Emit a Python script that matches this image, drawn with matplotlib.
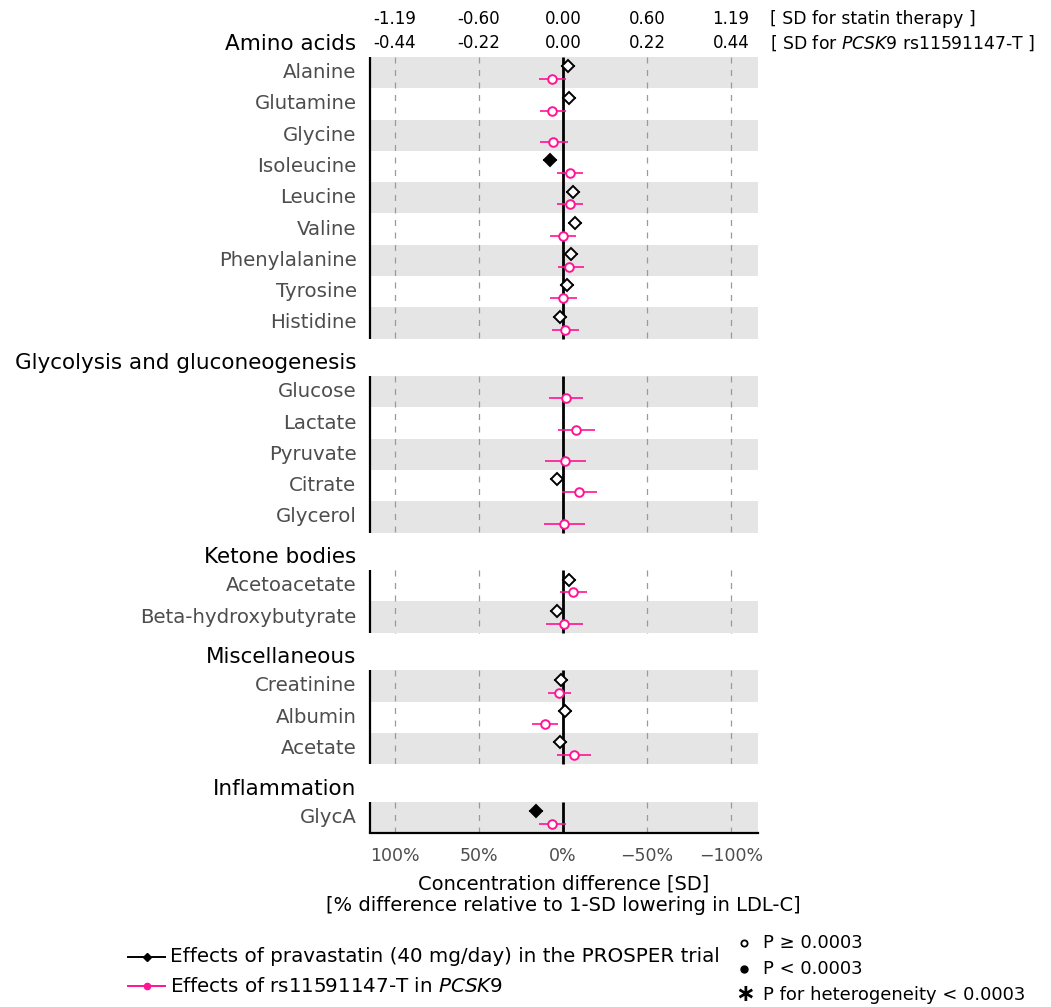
import numpy as np
import matplotlib
matplotlib.use("Agg")
import matplotlib.pyplot as plt
from matplotlib.lines import Line2D

plt.rcParams['font.family'] = ['DejaVu Sans']
plt.rcParams['mathtext.fontset'] = 'dejavusans'

# ---------------- data ----------------
groups = ["Amino acids", "Glycolysis and gluconeogenesis", "Ketone bodies",
          "Miscellaneous", "Inflammation"]
metabolites = [
    ["Alanine", "Glutamine", "Glycine", "Isoleucine", "Leucine", "Valine",
     "Phenylalanine", "Tyrosine", "Histidine"],
    ["Glucose", "Lactate", "Pyruvate", "Citrate", "Glycerol"],
    ["Acetoacetate", "Beta\u2010hydroxybutyrate"],
    ["Creatinine", "Albumin", "Acetate"],
    ["GlycA"],
]
nan = np.nan
# statin effects [SD for statin therapy]
statin_est = [0.038, 0.045, nan, -0.092, 0.073, 0.087, 0.055, 0.026, -0.023,
              nan, nan, nan, -0.040, nan,
              0.040, -0.042,
              -0.014, 0.016, -0.019,
              -0.193]
statin_lo = [-0.012, -0.005, nan, -0.142, 0.023, 0.037, 0.005, -0.024, -0.073,
             nan, nan, nan, -0.090, nan,
             -0.010, -0.092,
             -0.064, -0.034, -0.069,
             -0.243]
statin_hi = [0.088, 0.095, nan, -0.042, 0.123, 0.137, 0.105, 0.076, 0.027,
             nan, nan, nan, 0.010, nan,
             0.090, 0.008,
             0.036, 0.066, 0.031,
             -0.143]
statin_sig = [0, 0, 0, 1, 0, 0, 0, 0, 0,
              0, 0, 0, 0, 0,
              0, 0,
              0, 0, 0,
              1]
# PCSK9 rs11591147-T effects [SD for PCSK9 rs11591147-T]
pcsk9_est = [-0.028, -0.030, -0.025, 0.018, 0.018, 0.000, 0.016, 0.000, 0.004,
             0.007, 0.035, 0.006, 0.041, 0.003,
             0.026, 0.003,
             -0.010, -0.047, 0.028,
             -0.028]
pcsk9_lo = [-0.062, -0.061, -0.060, -0.015, -0.015, -0.034, -0.012, -0.034, -0.030,
            -0.038, -0.012, -0.046, -0.004, -0.050,
            -0.008, -0.045,
            -0.040, -0.082, -0.016,
            -0.063]
pcsk9_hi = [0.007, 0.007, 0.012, 0.052, 0.052, 0.034, 0.056, 0.036, 0.042,
            0.053, 0.083, 0.059, 0.088, 0.057,
            0.062, 0.051,
            0.021, -0.012, 0.073,
            0.008]

statin_sd_unit = 0.595   # statin SD per axis unit
pcsk9_sd_unit = 0.22     # PCSK9 SD per axis unit
tick_units = [-2, -1, 0, 1, 2]
statin_tick_labels = ["-1.19", "-0.60", "0.00", "0.60", "1.19"]
pcsk9_tick_labels = ["-0.44", "-0.22", "0.00", "0.22", "0.44"]
pct_tick_labels = ["100%", "50%", "0%", "\u221250%", "\u2212100%"]

# ---------------- style ----------------
PINK = "#ff1493"
BAND = "#e5e5e5"
GRAYTXT = "#4d4d4d"
W, H = 1051, 1007

fig = plt.figure(figsize=(W / 100, H / 100), dpi=100)
ax_left, ax_right, ax_top, ax_bot = 369.5, 758.0, 57.0, 833.0
ax = fig.add_axes([ax_left / W, 1 - ax_bot / H, (ax_right - ax_left) / W,
                   (ax_bot - ax_top) / H])

gap = 1.2
sizes = [len(m) for m in metabolites]
total = sum(sizes) + gap * (len(sizes) - 1)
xmin, xmax = -2.304, 2.321
ax.set_xlim(xmin, xmax)
ax.set_ylim(total, 0)

px2pt = 0.72
dash = (0, (4.8, 5.2))

idx = 0
top = 0.0
for g, (gname, names) in enumerate(zip(groups, metabolites)):
    n = len(names)
    bottom = top + n
    # bands
    for i in range(n):
        if (n - 1 - i) % 2 == 0:
            ax.axhspan(top + i, top + i + 1, color=BAND, lw=0, zorder=0)
    # dashed reference lines
    ax.vlines([t for t in tick_units if t != 0], top, bottom, colors="#9a9a9a",
              linestyles=[dash], lw=0.9, zorder=1)
    ax.vlines(0, top, bottom, colors="black", lw=2.0, zorder=2)
    ax.vlines(xmin, top, bottom, colors="black", lw=1.6, zorder=3, clip_on=False)
    # header
    ax.annotate(gname, xy=(0, top - 0.42), xycoords=("axes fraction", "data"),
                xytext=(-13 * px2pt, 0), textcoords="offset points",
                ha="right", va="center", fontsize=15.5, color="black",
                annotation_clip=False)
    for i, name in enumerate(names):
        yc = top + i + 0.5
        ax.annotate(name, xy=(0, yc), xycoords=("axes fraction", "data"),
                    xytext=(-13 * px2pt, 0), textcoords="offset points",
                    ha="right", va="center", fontsize=14.2, color=GRAYTXT,
                    annotation_clip=False)
        # statin
        se = statin_est[idx]
        if not np.isnan(se):
            ys = yc - 0.2
            ax.hlines(ys, statin_lo[idx] / statin_sd_unit,
                      statin_hi[idx] / statin_sd_unit, colors="black",
                      lw=1.1, zorder=4)
            ax.plot(se / statin_sd_unit, ys, marker="D", ms=6.0,
                    mfc="black" if statin_sig[idx] else "white",
                    mec="black", mew=1.4, zorder=6)
        # pcsk9
        pe = pcsk9_est[idx]
        yp = yc + 0.21
        ax.hlines(yp, pcsk9_lo[idx] / pcsk9_sd_unit,
                  pcsk9_hi[idx] / pcsk9_sd_unit, colors=PINK, lw=1.2, zorder=4)
        ax.plot(pe / pcsk9_sd_unit, yp, marker="o", ms=6.2, mfc="white",
                mec=PINK, mew=1.4, zorder=6)
        idx += 1
    top = bottom + gap

for s in ["top", "right", "left"]:
    ax.spines[s].set_visible(False)
ax.spines["bottom"].set_linewidth(1.6)
ax.set_yticks([])
ax.set_xticks(tick_units)
ax.set_xticklabels(pct_tick_labels, fontsize=12.5, color=GRAYTXT)
ax.tick_params(axis="x", length=0, pad=10)
ax.set_xlabel("Concentration difference [SD]\n"
              "[% difference relative to 1-SD lowering in LDL-C]",
              fontsize=14, labelpad=7, linespacing=1.15)

# top SD scales
for t, l1, l2 in zip(tick_units, statin_tick_labels, pcsk9_tick_labels):
    ax.annotate(l1, xy=(t, 1), xycoords=("data", "axes fraction"),
                xytext=(0, 38 * px2pt), textcoords="offset points",
                ha="center", va="center", fontsize=12, annotation_clip=False)
    ax.annotate(l2, xy=(t, 1), xycoords=("data", "axes fraction"),
                xytext=(0, 14 * px2pt), textcoords="offset points",
                ha="center", va="center", fontsize=12, annotation_clip=False)
ax.annotate("[ SD for statin therapy ]", xy=(1, 1), xycoords="axes fraction",
            xytext=(12 * px2pt, 38 * px2pt), textcoords="offset points",
            ha="left", va="center", fontsize=12.4, annotation_clip=False)
ax.annotate(r"[ SD for $\mathit{PCSK9}$ rs11591147-T ]", xy=(1, 1),
            xycoords="axes fraction",
            xytext=(12 * px2pt, 14 * px2pt), textcoords="offset points",
            ha="left", va="center", fontsize=12.4, annotation_clip=False)

# ---------------- legends ----------------
def fx(p):
    return p / W

def fy(p):
    return 1 - p / H

leg_items = [("black", "D", "Effects of pravastatin (40 mg/day) in the PROSPER trial", 957),
             (PINK, "o", r"Effects of rs11591147-T in $\mathit{PCSK9}$", 986)]
for col, mk, lab, py in leg_items:
    fig.add_artist(Line2D([fx(128), fx(165)], [fy(py), fy(py)], color=col,
                          lw=1.4, transform=fig.transFigure))
    fig.add_artist(Line2D([fx(147)], [fy(py)], marker=mk, ms=4.5, mfc=col,
                          mec=col, transform=fig.transFigure))
    fig.text(fx(170), fy(py), lab, ha="left", va="center", fontsize=14.3)

fig.add_artist(Line2D([fx(744)], [fy(943)], marker="o", ms=4.5, mfc="white",
                      mec="black", mew=1.3, transform=fig.transFigure))
fig.text(fx(763), fy(943), "P \u2265 0.0003", ha="left", va="center", fontsize=13)
fig.add_artist(Line2D([fx(744)], [fy(969)], marker="o", ms=5, mfc="black",
                      mec="black", transform=fig.transFigure))
fig.text(fx(763), fy(969), "P < 0.0003", ha="left", va="center", fontsize=13)
fig.text(fx(744), fy(994), r"$\mathbf{\ast}$", ha="center", va="center",
         fontsize=17)
fig.text(fx(763), fy(995), "P for heterogeneity < 0.0003", ha="left",
         va="center", fontsize=13)

fig.savefig("out.png", dpi=100)
